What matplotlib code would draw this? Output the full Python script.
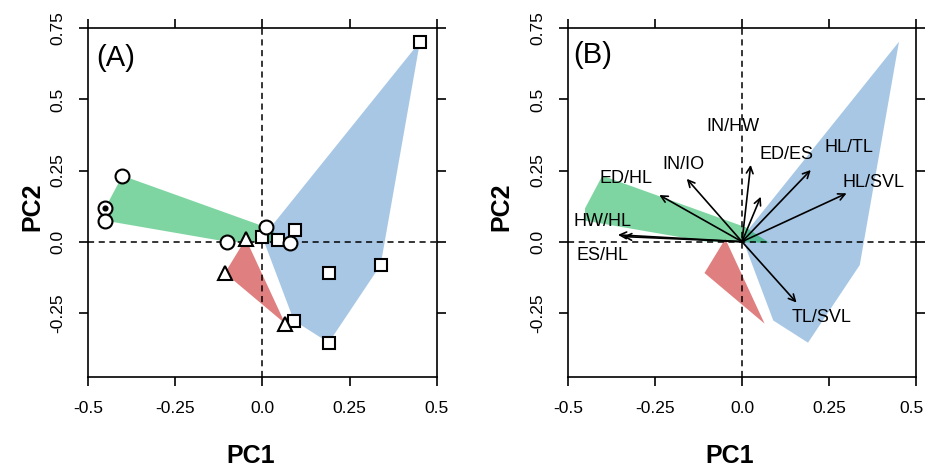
import numpy as np
import matplotlib
matplotlib.use("Agg")
import matplotlib.pyplot as plt
import matplotlib.transforms as mtransforms

plt.rcParams['font.family'] = ['Liberation Sans', 'DejaVu Sans']

# ---- data ----
sq_x = [0.452, 0.094, 0.045, 0.0, 0.192, 0.339, 0.090, 0.190]
sq_y = [0.703, 0.041, 0.006, 0.015, -0.109, -0.082, -0.277, -0.355]
circ_x = [-0.402, -0.452, -0.452, -0.103, 0.010, 0.079]
circ_y = [0.232, 0.117, 0.074, 0.0, 0.051, -0.004]
dot_idx = 1  # circle with a central dot
tri_x = [-0.048, -0.108, 0.065]
tri_y = [0.010, -0.110, -0.288]

load_names = ["IN/HW", "ED/ES", "HL/TL", "HL/SVL", "TL/SVL",
              "IN/IO", "ED/HL", "HW/HL", "ES/HL"]
load_x = [0.025, 0.054, 0.198, 0.301, 0.157, -0.159, -0.238, -0.357, -0.342]
load_y = [0.270, 0.158, 0.252, 0.170, -0.214, 0.221, 0.164, 0.024, 0.018]
label_x = [-0.025, 0.129, 0.309, 0.378, 0.229, -0.169, -0.334, -0.401, -0.401]
label_y = [0.404, 0.308, 0.330, 0.209, -0.267, 0.273, 0.223, 0.070, -0.047]

xticks = [-0.5, -0.25, 0.0, 0.25, 0.5]
xtick_labels = ["-0.5", "-0.25", "0.0", "0.25", "0.5"]
yticks = [-0.25, 0.0, 0.25, 0.5, 0.75]
ytick_labels = ["-0.25", "0.0", "0.25", "0.5", "0.75"]

col_green = (0.0, 0.68, 0.28)
col_blue = (0.32, 0.57, 0.80)
col_red = (0.76, 0.0, 0.0)


def hull(xs, ys):
    pts = sorted(set(zip(xs, ys)))
    if len(pts) <= 2:
        return pts

    def cross(o, a, b):
        return (a[0]-o[0])*(b[1]-o[1]) - (a[1]-o[1])*(b[0]-o[0])
    lower, upper = [], []
    for p in pts:
        while len(lower) >= 2 and cross(lower[-2], lower[-1], p) <= 0:
            lower.pop()
        lower.append(p)
    for p in reversed(pts):
        while len(upper) >= 2 and cross(upper[-2], upper[-1], p) <= 0:
            upper.pop()
        upper.append(p)
    return lower[:-1] + upper[:-1]


W, H = 925, 467
fig = plt.figure(figsize=(W/100, H/100), dpi=100)
bottom = (H - 376.7) / H
hgt = 348.4 / H
axA = fig.add_axes([88.3/W, bottom, 348.4/W, hgt])
axB = fig.add_axes([568.3/W, bottom, 347.4/W, hgt])

for ax in (axA, axB):
    ax.set_xlim(-0.5, 0.5)
    ax.set_ylim(-0.4745, 0.75)
    for s in ax.spines.values():
        s.set_linewidth(1.2)
    for (xs, ys, c) in ((sq_x, sq_y, col_blue), (tri_x, tri_y, col_red),
                        (circ_x, circ_y, col_green)):
        hp = hull(xs, ys)
        ax.fill([p[0] for p in hp], [p[1] for p in hp], color=c, alpha=0.5,
                lw=0, zorder=1)
    ax.axhline(0, color='black', ls=(0, (4, 3)), lw=1.1, zorder=2)
    ax.axvline(0, color='black', ls=(0, (4, 3)), lw=1.1, zorder=2)
    ax.set_xticks(xticks)
    ax.set_xticklabels(xtick_labels)
    ax.set_yticks(yticks)
    ax.set_yticklabels(ytick_labels, rotation=90, va='center')
    ax.tick_params(direction='out', length=6.7, width=1.2, top=True,
                   right=True, labelsize=12.5)
    ax.tick_params(axis='x', pad=11)
    ax.tick_params(axis='y', pad=10)

# keep the last tick label of panel B inside the figure
lastlab = axB.get_xticklabels()[-1]
lastlab.set_horizontalalignment('right')
lastlab.set_transform(lastlab.get_transform() +
                      mtransforms.ScaledTranslation(8/100, 0, fig.dpi_scale_trans))

# Panel A markers
mk = dict(markerfacecolor='white', markeredgecolor='black',
          markeredgewidth=1.5, linestyle='none', zorder=4)
axA.plot(sq_x, sq_y, marker='s', markersize=9, **mk)
axA.plot(tri_x, tri_y, marker='^', markersize=10, **mk)
axA.plot(circ_x, circ_y, marker='o', markersize=10, **mk)
axA.plot([circ_x[dot_idx]], [circ_y[dot_idx]], marker='o', markersize=3.4,
         color='black', linestyle='none', zorder=5)

# Panel B loadings
for name, x, y, lx, ly in zip(load_names, load_x, load_y, label_x, label_y):
    axB.annotate("", xy=(x, y), xytext=(0, 0),
                 arrowprops=dict(arrowstyle='->', lw=1.2, color='black',
                                 mutation_scale=12, shrinkA=0, shrinkB=0),
                 zorder=3)
    axB.text(lx, ly, name, fontsize=13, ha='center', va='center', zorder=4)

axA.text(0.022, 0.914, "(A)", transform=axA.transAxes, fontsize=21,
         ha='left', va='center')
axB.text(0.014, 0.922, "(B)", transform=axB.transAxes, fontsize=21,
         ha='left', va='center')

for cx in (250.5/W, 730/W):
    fig.text(cx, 1 - 456/H, "PC1", fontsize=18, fontweight='bold',
             ha='center', va='center')
for cx in (32/W, 501/W):
    fig.text(cx, 1 - 207/H, "PC2", fontsize=18, fontweight='bold',
             ha='center', va='center', rotation=90)

fig.savefig("out.png", dpi=100)
